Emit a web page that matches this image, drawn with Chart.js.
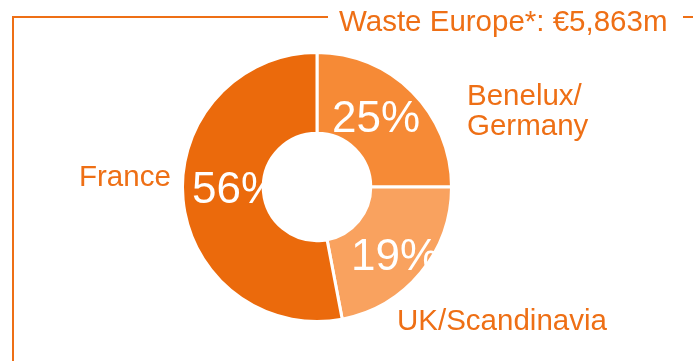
<!DOCTYPE html>
<html>
<head>
<meta charset="utf-8">
<script src="https://cdn.jsdelivr.net/npm/chart.js@4"></script>
<style>
  html, body { margin: 0; padding: 0; background: #fff; }
  #wrap { width: 693px; height: 361px; }
</style>
</head>
<body>
<div id="wrap"><canvas id="chart" width="693" height="361"></canvas></div>
<script>
// data
const regions = ['Benelux/Germany', 'UK/Scandinavia', 'France'];
const shares = [25, 22, 53]; // slice sizes as drawn
const shareLabels = ['25%', '19%', '56%']; // printed on the slices
const sliceColors = ['#F68A36', '#F9A25F', '#EB6A0C'];
const title = 'Waste Europe*: €5,863m';

const orange = '#EE6F15';
const font = '"Liberation Sans", Arial, sans-serif';

// titre, cadre et étiquettes
const decorPlugin = {
    id: 'decor',
    afterDraw(chart) {
        const c = chart.ctx;
        c.save();
        c.strokeStyle = orange;
        c.lineWidth = 2;
        c.beginPath();
        c.moveTo(13, 361);
        c.lineTo(13, 17);
        c.lineTo(328, 17);
        c.moveTo(683, 17);
        c.lineTo(693, 17);
        c.stroke();

        c.fillStyle = orange;
        c.textBaseline = 'alphabetic';
        c.textAlign = 'left';
        c.font = '29.5px ' + font;
        c.fillText(title, 339, 31);
        c.fillText('France', 79, 186);
        c.fillText('Benelux/', 467, 105);
        c.fillText('Germany', 467, 135);
        c.fillText('UK/Scandinavia', 397, 330);

        // pourcentages sur les parts
        const arcs = chart.getDatasetMeta(0).data;
        const offsets = [[332, 132], [351, 270], [192, 203]];
        c.fillStyle = '#fff';
        c.font = '44px ' + font;
        arcs.forEach((arc, i) => {
            c.fillText(shareLabels[i], offsets[i][0], offsets[i][1]);
        });
        c.restore();
    }
};

new Chart(document.getElementById('chart'), {
    type: 'doughnut',
    data: {
        labels: regions,
        datasets: [{
            data: shares,
            backgroundColor: sliceColors,
            borderColor: '#fff',
            borderWidth: 3
        }]
    },
    options: {
        responsive: false,
        animation: false,
        cutout: '40%',
        layout: { padding: { left: 181, right: 240, top: 51, bottom: 38 } },
        plugins: {
            legend: { display: false },
            tooltip: { enabled: false }
        }
    },
    plugins: [decorPlugin]
});
</script>
</body>
</html>
